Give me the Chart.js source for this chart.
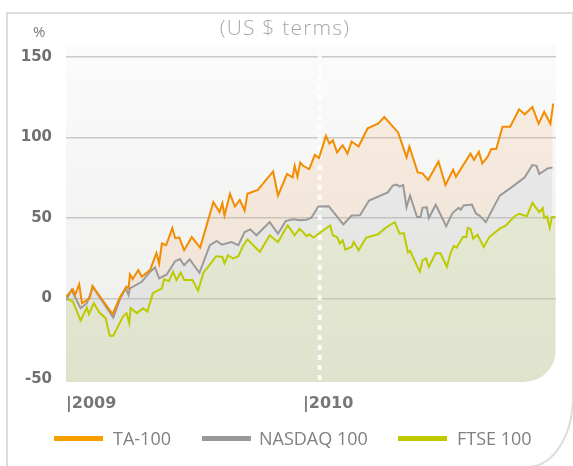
<!DOCTYPE html>
<html>
<head>
<meta charset="utf-8">
<script src="https://cdn.jsdelivr.net/npm/chart.js@4.4.1/dist/chart.umd.min.js"></script>
<style>
  body { margin: 0; background: #fff; }
  #wrap { position: relative; width: 573px; height: 466px; overflow: hidden; font-family: "Open Sans", sans-serif; }
  #frame { position: absolute; left: 6px; top: 12px; width: 568px; height: 456px; box-sizing: border-box;
           border: 2px solid #dcdcdc; border-bottom-right-radius: 46px 71px; }
  #chartBox { position: absolute; left: 0; top: 0; width: 573px; height: 466px; }
  .sub { position: absolute; left: 185px; top: 13px; width: 200px; text-align: center; font-size: 21px;
         font-weight: 300; letter-spacing: 1.2px; color: #a8a8a8; line-height: 28px; }
  .pct { position: absolute; left: 33px; top: 21px; font-size: 15px; color: #7a7a7a; line-height: 20px; }
  .leg { position: absolute; top: 426px; font-size: 18px; color: #808080; line-height: 24px; }
  .legLine { position: absolute; top: 436px; width: 49px; height: 5px; }
</style>
</head>
<body>
<div id="wrap">
  <div id="frame"></div>
  <div id="chartBox"><canvas id="chartIndices"></canvas></div>
  <div class="sub">(US $ terms)</div>
  <div class="pct">%</div>
  <div class="legLine" style="left:54px;background:#f5a000"></div>
  <div class="leg" style="left:113px">TA-100</div>
  <div class="legLine" style="left:202px;background:#999"></div>
  <div class="leg" style="left:259px">NASDAQ 100</div>
  <div class="legLine" style="left:398px;background:#bfcb00"></div>
  <div class="leg" style="left:457px">FTSE 100</div>
</div>
<script>
(() => {

  // days since 1 Jan 2009, % change in US $ terms
  const taDays = [0,10,13,19,23,29,34,38,44,67,78,87,90,92,96,104,109,121,130,134,138,144,153,157,163,170,181,193,212,221,225,228,236,243,250,257,261,276,298,305,318,326,329,333,337,341,350,358,364,374,379,384,390,398,405,411,421,434,449,458,478,490,494,506,513,521,536,546,557,561,582,587,594,599,606,612,619,628,639,652,660,671,680,688,697,701];
  const taValues = [1.0,5.6,2.1,8.7,-3.0,-1.4,0,7.7,4.1,-9.8,1.0,7.2,6.2,14.9,12.0,17.6,13.4,17.6,28.2,21.7,34.1,33.0,43.7,37.5,37.8,29.9,38.1,31.6,59.8,53.6,59.1,51.5,65.0,57.1,61.2,54.6,65.0,67.4,78.9,63.9,77.3,75.2,82.4,75.6,84.5,82.4,80.4,89.2,87.2,101,96.2,98.3,90.7,95.2,90.0,97.5,94.4,105.7,108.6,112.7,103,87.6,94.4,78.3,77.7,73.6,85.1,70.5,80,75.6,90,86,91.1,83.9,87.6,92.8,92.8,106.7,106.7,117.5,114.4,118.9,108.6,116,108.6,121];

  const nasdaqDays = [0,8,21,30,39,68,78,86,90,92,109,120,128,134,145,149,157,164,170,178,192,207,217,224,238,248,257,265,274,293,305,316,327,336,346,353,363,378,399,411,423,436,463,470,476,480,485,490,495,505,510,513,519,522,532,547,556,565,568,572,584,590,595,604,624,640,660,671,677,681,693,700];
  const nasdaqValues = [-1.0,5.2,-6.1,-3,6.9,-11.9,0,6.2,2.1,6.2,10.3,16.1,19.2,12.4,14.9,17.6,23.1,24.4,20.6,24.2,15.9,33,35.7,33.4,35,33,41.2,42.9,39.2,47.4,40.2,48,49.1,48.5,48.9,50.1,57.1,57.3,46,51.5,51.7,60.8,65.9,70.1,70.7,69.5,70.5,56.7,63.9,50.5,50.5,56.3,56.7,49.9,58.2,44.9,53,56.3,55.1,57.7,58.3,52.6,51.5,47.4,63.9,68.7,75.2,82.9,82.4,77.3,80.8,81.4];

  const ftseDays = [0,10,21,30,33,40,48,57,63,68,82,87,91,93,102,111,117,125,138,141,148,154,159,165,170,182,190,198,204,216,225,228,233,240,248,254,261,279,293,305,319,329,336,341,346,350,356,380,384,390,394,398,402,411,414,421,432,449,460,473,480,486,492,495,509,513,518,522,532,539,548,553,558,562,571,576,578,582,586,592,601,609,624,633,645,652,663,671,681,686,688,692,696,699,704];
  const ftseValues = [0,-2.0,-13.8,-5.7,-9.8,-3.0,-8.8,-12.3,-23.2,-23.2,-11.3,-9.2,-15.4,-6.1,-9.2,-6.1,-8.2,3.2,6.2,11.8,10.8,16.5,11.4,16.1,11.4,11.4,4.8,16.3,19.2,26.2,25.8,21.7,26.8,24.8,26.2,32,36.7,28.9,39.2,35,45.4,39.2,43.3,41.2,38.6,39.8,37.8,45.4,39.2,38.1,34.1,36.1,30.3,32,35,29.9,37.8,39.8,43.9,47.4,40.2,40.6,28.5,29.5,16.5,23.7,24.8,19.6,28.2,27.9,19.6,27.9,32.6,31.6,38.1,38.1,43.9,43.3,37.1,39.6,32,38.1,43.3,45.4,50.9,52.6,51.1,59.4,53.6,56.1,50.1,50.9,43.9,50.5,50.5];

  const yTickValues = [-50, 0, 50, 100, 150];
  const xTickDays = [0, 341];
  const xTickLabels = ['|2009', '|2010'];
  const yearMarkDay = 365;

  const toPoints = (days, vals) => days.map((d, i) => ({ x: d, y: vals[i] }));
  const cornerR = 32;

  const plotDecor = {
    id: 'plotDecor',
    beforeDraw(chart) {
      const { ctx, chartArea: a } = chart;
      const g = ctx.createLinearGradient(0, a.top, 0, a.bottom);
      g.addColorStop(0, '#fbfbfb');
      g.addColorStop(1, '#ededeb');
      ctx.save();
      ctx.fillStyle = g;
      ctx.beginPath();
      ctx.roundRect(a.left, a.top, a.right - a.left, a.bottom - a.top, [0, 0, cornerR, 0]);
      ctx.fill();
      ctx.restore();
    },
    beforeDatasetsDraw(chart) {
      // white dotted line at the turn of the year
      const { ctx, chartArea: a } = chart;
      const x = chart.scales.x.getPixelForValue(yearMarkDay);
      ctx.save();
      ctx.strokeStyle = 'rgba(255,255,255,0.85)';
      ctx.lineWidth = 4;
      ctx.setLineDash([5, 5]);
      ctx.beginPath();
      ctx.moveTo(x, a.top);
      ctx.lineTo(x, a.bottom);
      ctx.stroke();
      ctx.restore();
    },
    afterDatasetsDraw(chart) {
      const { ctx, chartArea: a } = chart;
      ctx.save();
      ctx.fillStyle = '#fff';
      ctx.beginPath();
      ctx.moveTo(a.right + 2, a.bottom - cornerR);
      ctx.lineTo(a.right + 2, a.bottom + 2);
      ctx.lineTo(a.right - cornerR, a.bottom + 2);
      ctx.lineTo(a.right - cornerR, a.bottom);
      ctx.arcTo(a.right, a.bottom, a.right, a.bottom - cornerR, cornerR);
      ctx.closePath();
      ctx.fill();
      ctx.restore();
    }
  };

  const ctx = document.getElementById('chartIndices').getContext('2d');

  new Chart(ctx, {
    type: 'line',
    data: {
      datasets: [{
        label: 'TA-100',
        data: toPoints(taDays, taValues),
        borderColor: '#f28c00',
        backgroundColor: 'rgba(240,160,90,0.15)',
        fill: '+1',
        borderWidth: 2
      }, {
        label: 'NASDAQ 100',
        data: toPoints(nasdaqDays, nasdaqValues),
        borderColor: '#9a9a9a',
        backgroundColor: 'rgba(170,170,170,0.18)',
        fill: '+1',
        borderWidth: 2
      }, {
        label: 'FTSE 100',
        data: toPoints(ftseDays, ftseValues),
        borderColor: '#bccb00',
        backgroundColor: 'rgba(195,205,140,0.32)',
        fill: 'start',
        borderWidth: 2
      }]
    },
    options: {
      responsive: true,
      maintainAspectRatio: false,
      animation: false,
      layout: { padding: { top: 45, right: 17, left: 0, bottom: 0 } },
      elements: {
        point: { radius: 0 },
        line: { tension: 0 }
      },
      plugins: {
        legend: { display: false },
        tooltip: { enabled: false },
        filler: { drawTime: 'beforeDatasetsDraw' }
      },
      scales: {
        x: {
          type: 'linear',
          min: 0,
          max: 705,
          afterBuildTicks: (s) => { s.ticks = xTickDays.map(v => ({ value: v })); },
          afterFit: (s) => { s.height = 84; },
          grid: { display: false, drawTicks: false },
          border: { display: false },
          ticks: {
            autoSkip: false,
            maxRotation: 0,
            align: 'start',
            padding: 12,
            color: '#777',
            font: { family: 'DejaVu Sans', weight: 'bold', size: 16 },
            callback: (v, i) => xTickLabels[i]
          }
        },
        y: {
          min: -52,
          max: 157.5,
          afterBuildTicks: (s) => { s.ticks = yTickValues.map(v => ({ value: v })); },
          afterFit: (s) => { s.width = 66; },
          border: { display: false },
          grid: {
            drawTicks: false,
            lineWidth: 1.5,
            color: (c) => (c.tick && c.tick.value === -50) ? 'rgba(0,0,0,0)' : 'rgba(185,185,185,0.75)'
          },
          ticks: {
            padding: 14,
            color: '#707070',
            font: { family: 'DejaVu Sans', weight: 'bold', size: 15 }
          }
        }
      }
    },
    plugins: [plotDecor]
  });

})();
</script>
</body>
</html>
